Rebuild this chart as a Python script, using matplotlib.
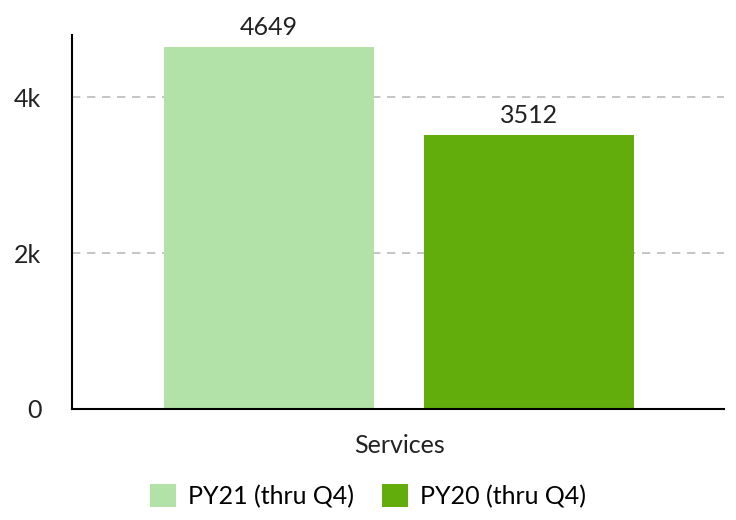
import matplotlib.pyplot as plt
from matplotlib.ticker import FuncFormatter

plt.rcParams['font.family'] = ['Lato', 'DejaVu Sans']

categories = ['Services']
series_names = ['PY21 (thru Q4)', 'PY20 (thru Q4)']
series_values = [4649, 3512]
colors = ['#b2e2a8', '#62ad0c']

fig = plt.figure(figsize=(7.36, 5.2), dpi=100)
ax = fig.add_axes([0.0978, 0.2135, 0.886, 0.719])

bar_width = 0.806
positions = [0, 1]
for pos, val, name, col in zip(positions, series_values, series_names, colors):
    ax.bar(pos, val, bar_width, color=col, label=name, zorder=2)
    ax.annotate(f'{val}', (pos, val), xytext=(0, 6), textcoords='offset points',
                ha='center', va='bottom', fontsize=18, color='#222222')

ax.set_xlim(-0.756, 1.747)
ax.set_ylim(0, 4800)
ax.set_yticks([0, 2000, 4000])
ax.yaxis.set_major_formatter(FuncFormatter(lambda v, p: '0' if v == 0 else f'{int(v/1000)}k'))
ax.set_xticks([0.5])
ax.set_xticklabels(categories)
ax.tick_params(axis='both', length=0, labelsize=18, colors='#222222')
ax.tick_params(axis='x', pad=18)
ax.tick_params(axis='y', pad=22)

ax.grid(axis='y', color='#bbbbbb', linestyle=(0, (5, 4)), linewidth=1.2, zorder=1)
for side in ['top', 'right']:
    ax.spines[side].set_visible(False)
ax.spines['left'].set_linewidth(1.5)
ax.spines['bottom'].set_linewidth(1.5)

fig.legend(loc='lower center', bbox_to_anchor=(0.5, -0.02), ncol=2, frameon=False,
           fontsize=18, handlelength=1.05, handleheight=1.05, columnspacing=1.1,
           handletextpad=0.5)

plt.savefig('out.png', dpi=100)
